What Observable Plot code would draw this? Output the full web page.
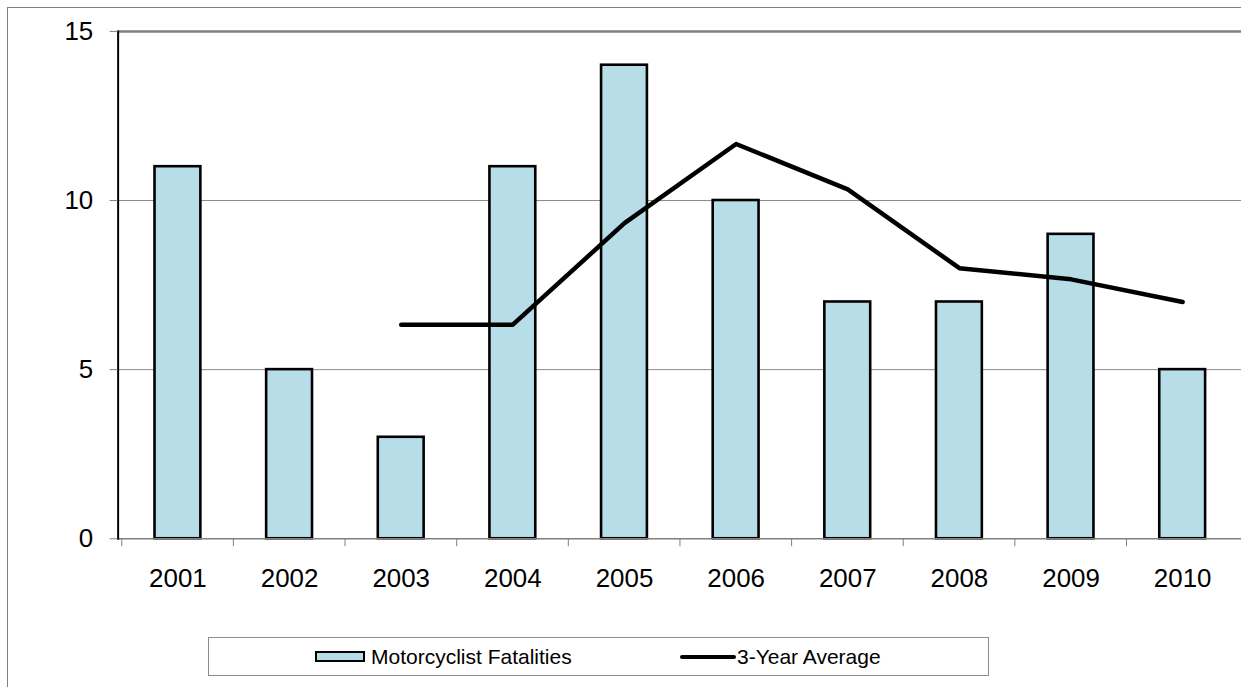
<!DOCTYPE html>
<html>
<head>
<meta charset="utf-8">
<script src="https://cdn.jsdelivr.net/npm/d3@7"></script>
<script src="https://cdn.jsdelivr.net/npm/@observablehq/plot@0.6"></script>
<style>
  html, body { margin: 0; padding: 0; background: #fff; overflow: hidden; width: 1241px; height: 687px; }
  #wrap { position: relative; width: 1241px; height: 687px; overflow: hidden; font-family: "Liberation Sans", Arial, sans-serif; }
  #outer { position: absolute; left: 7px; top: 7px; width: 1300px; height: 800px; border: 1px solid #808080; box-sizing: border-box; }
  #chart { position: absolute; left: 0; top: 0; }
  #legend { position: absolute; left: 208px; top: 637px; width: 781px; height: 39px; border: 1px solid #8c8c8c; box-sizing: border-box; background: #fff; }
  .item { position: absolute; top: 0; height: 37px; display: flex; align-items: center; font-size: 21px; color: #000; white-space: nowrap; }
  .swatch-bar { width: 46px; height: 7px; background: #b7dde8; border: 2.5px solid #000; margin-right: 6px; }
  .swatch-line { width: 56px; height: 4px; background: #000; border-radius: 2px; margin-right: 1px; }
</style>
</head>
<body>
<div id="wrap">
  <div id="outer"></div>
  <div id="chart"></div>
  <div id="legend"></div>
</div>
<script>
const years = ["2001","2002","2003","2004","2005","2006","2007","2008","2009","2010"];
const fatalities = [11, 5, 3, 11, 14, 10, 7, 7, 9, 5];
const avgYears = ["2003","2004","2005","2006","2007","2008","2009","2010"];
const avgValues = [6.33, 6.33, 9.33, 11.67, 10.33, 8, 7.67, 7];
const yTicks = [0, 5, 10, 15];
const seriesNames = ["Motorcyclist Fatalities", "3-Year Average"];

const barData = years.map((y, i) => ({year: y, value: fatalities[i]}));
const avgData = avgYears.map((y, i) => ({year: y, value: avgValues[i]}));

const W = 1245, ML = 118, MR = 0;
const step = (W - ML - MR) / years.length;

const chart = Plot.plot({
  width: W,
  height: 687,
  marginLeft: ML,
  marginRight: MR,
  marginTop: 31,
  marginBottom: 147,
  style: {fontFamily: '"Liberation Sans", Arial, sans-serif', fontSize: "26px", color: "#000", background: "transparent", overflow: "visible"},
  x: {type: "band", domain: years, paddingInner: 0.59, paddingOuter: 0.295, label: null},
  y: {domain: [0, 15], label: null},
  marks: [
    Plot.ruleY([5, 10], {stroke: "#8c8c8c", strokeWidth: 1}),
    Plot.ruleY([15], {stroke: "#808080", strokeWidth: 2.5}),
    Plot.barY(barData, {x: "year", y: "value", fill: "#b7dde8", stroke: "#000", strokeWidth: 2.6}),
    Plot.ruleY([0], {stroke: "#7f7f7f", strokeWidth: 1.5}),
    Plot.frame({anchor: "left", stroke: "#000", strokeWidth: 2}),
    Plot.line(avgData, {x: "year", y: "value", stroke: "#000", strokeWidth: 4.5, strokeLinecap: "round", strokeLinejoin: "round"}),
    Plot.axisY({ticks: yTicks, tickSize: 8, tickPadding: 17, stroke: "#7f7f7f", fontSize: 26, tickFormat: d => String(d)}),
    Plot.axisX({tickSize: 8, tickFormat: () => "", dx: -step / 2, stroke: "#7f7f7f"}),
    Plot.axisX({tickSize: 0, tickPadding: 30, fontSize: 26})
  ]
});
document.getElementById("chart").appendChild(chart);

const legend = document.getElementById("legend");
const items = [
  {left: 106, cls: "swatch-bar", text: seriesNames[0]},
  {left: 471, cls: "swatch-line", text: seriesNames[1]}
];
for (const it of items) {
  const d = document.createElement("div");
  d.className = "item";
  d.style.left = it.left + "px";
  const s = document.createElement("span");
  s.className = it.cls;
  const t = document.createElement("span");
  t.textContent = it.text;
  d.appendChild(s);
  d.appendChild(t);
  legend.appendChild(d);
}
</script>
</body>
</html>
